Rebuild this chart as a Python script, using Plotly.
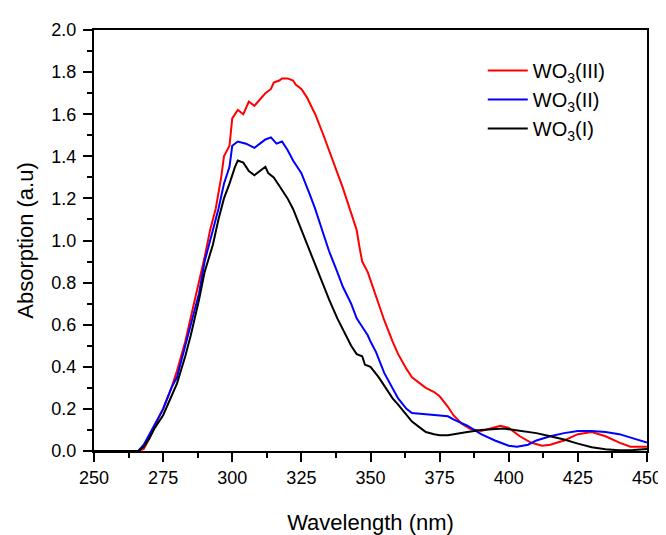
import plotly.graph_objects as go

# WO3(III) - red
wl_iii = [250, 266, 268, 270, 272, 275, 278, 280, 283, 285, 287, 290, 292, 294, 296, 297, 299,
          300, 302, 304, 306, 308, 310, 312, 314, 315, 317, 318, 320, 322, 323, 325, 327, 330,
          333, 335, 338, 340, 343, 345, 346, 347, 349, 350, 352, 355, 358, 360, 363, 365, 368,
          370, 373, 375, 378, 380, 383, 386, 390, 394, 397, 400, 404, 408, 412, 415, 420, 425,
          430, 435, 440, 444, 450]
abs_iii = [0, 0, 0.01, 0.06, 0.12, 0.2, 0.3, 0.38, 0.52, 0.63, 0.75, 0.92, 1.05, 1.15, 1.3, 1.4, 1.45,
           1.58, 1.62, 1.6, 1.66, 1.64, 1.67, 1.7, 1.72, 1.75, 1.76, 1.77, 1.77, 1.76, 1.74, 1.72, 1.68, 1.6,
           1.5, 1.43, 1.32, 1.25, 1.13, 1.05, 0.97, 0.9, 0.85, 0.81, 0.73, 0.62, 0.52, 0.46, 0.39, 0.35, 0.32,
           0.3, 0.28, 0.26, 0.21, 0.17, 0.13, 0.105, 0.095, 0.11, 0.12, 0.11, 0.07, 0.04, 0.025, 0.03, 0.05, 0.08,
           0.09, 0.07, 0.04, 0.02, 0.02]

# WO3(II) - blue
wl_ii = [250, 266, 268, 270, 272, 275, 278, 280, 283, 285, 288, 290, 293, 295, 297, 299, 300, 302,
         305, 308, 310, 312, 314, 316, 318, 320, 322, 325, 328, 330, 333, 335, 338, 340, 343, 345,
         348, 349, 350, 352, 355, 358, 360, 363, 365, 370, 375, 378, 380, 385, 390, 395, 400, 403,
         407, 410, 415, 420, 425, 430, 435, 440, 445, 450]
abs_ii = [0, 0, 0.03, 0.08, 0.13, 0.2, 0.3, 0.35, 0.5, 0.6, 0.75, 0.9, 1.05, 1.15, 1.27, 1.35, 1.45, 1.47,
          1.46, 1.44, 1.46, 1.48, 1.49, 1.46, 1.47, 1.43, 1.38, 1.32, 1.22, 1.15, 1.03, 0.95, 0.85, 0.78, 0.7, 0.63,
          0.57, 0.55, 0.52, 0.47, 0.37, 0.3, 0.25, 0.2, 0.18, 0.175, 0.17, 0.165, 0.15, 0.12, 0.08, 0.05, 0.025, 0.02,
          0.03, 0.05, 0.07, 0.085, 0.095, 0.095, 0.09, 0.08, 0.06, 0.04]

# WO3(I) - black
wl_i = [250, 266, 268, 270, 272, 275, 278, 280, 283, 285, 288, 290, 293, 295, 297, 299, 301, 302,
        304, 306, 308, 310, 312, 313, 315, 317, 320, 322, 325, 328, 330, 333, 335, 338, 340, 343,
        345, 347, 348, 350, 353, 355, 358, 360, 363, 365, 368, 370, 373, 375, 378, 380, 385, 390,
        395, 398, 402, 405, 410, 415, 420, 425, 430, 435, 440, 445, 450]
abs_i = [0, 0, 0.02, 0.06, 0.11, 0.17, 0.26, 0.32, 0.45, 0.55, 0.72, 0.85, 0.98, 1.1, 1.2, 1.27, 1.35, 1.38,
         1.37, 1.33, 1.31, 1.33, 1.35, 1.32, 1.3, 1.26, 1.2, 1.15, 1.05, 0.95, 0.88, 0.78, 0.72, 0.63, 0.58, 0.5,
         0.46, 0.45, 0.41, 0.4, 0.35, 0.31, 0.25, 0.22, 0.17, 0.14, 0.11, 0.09, 0.08, 0.075, 0.075, 0.08, 0.09, 0.1,
         0.105, 0.107, 0.1, 0.095, 0.085, 0.07, 0.055, 0.035, 0.018, 0.008, 0.003, 0.005, 0.01]

fig = go.Figure()
fig.add_trace(go.Scatter(x=wl_iii, y=abs_iii, mode='lines', name='WO<sub>3</sub>(III)',
                         line=dict(color='#ff0000', width=2)))
fig.add_trace(go.Scatter(x=wl_ii, y=abs_ii, mode='lines', name='WO<sub>3</sub>(II)',
                         line=dict(color='#0000ff', width=2)))
fig.add_trace(go.Scatter(x=wl_i, y=abs_i, mode='lines', name='WO<sub>3</sub>(I)',
                         line=dict(color='#000000', width=2)))

axis_common = dict(showline=True, linecolor='black', linewidth=2, mirror=True,
                   showgrid=False, zeroline=False, ticks='outside', ticklen=9,
                   tickwidth=1.5, tickcolor='black',
                   tickfont=dict(family='Liberation Sans, Arial', size=18, color='black'))

fig.update_layout(
    width=666, height=535,
    margin=dict(l=86, r=17, t=22, b=89),
    paper_bgcolor='white', plot_bgcolor='white',
    font=dict(family='Liberation Sans, Arial', color='black'),
    xaxis=dict(range=[250, 450], dtick=25, tick0=250,
               minor=dict(ticks='outside', ticklen=5, dtick=12.5, tickcolor='black', tickwidth=1.5),
               title=dict(text='Wavelength (nm)', font=dict(size=22), standoff=28),
               **axis_common),
    yaxis=dict(range=[0, 2.0], dtick=0.2, tickformat='.1f', ticklabelstandoff=3,
               minor=dict(ticks='outside', ticklen=5, dtick=0.1, tickcolor='black', tickwidth=1.5),
               title=dict(text='Absorption (a.u)', font=dict(size=22), standoff=12),
               **axis_common),
    legend=dict(x=0.703, y=0.95, xanchor='left', yanchor='top',
                font=dict(size=20), bgcolor='rgba(0,0,0,0)', itemwidth=40),
    showlegend=True,
)

fig.write_html("out.html")
